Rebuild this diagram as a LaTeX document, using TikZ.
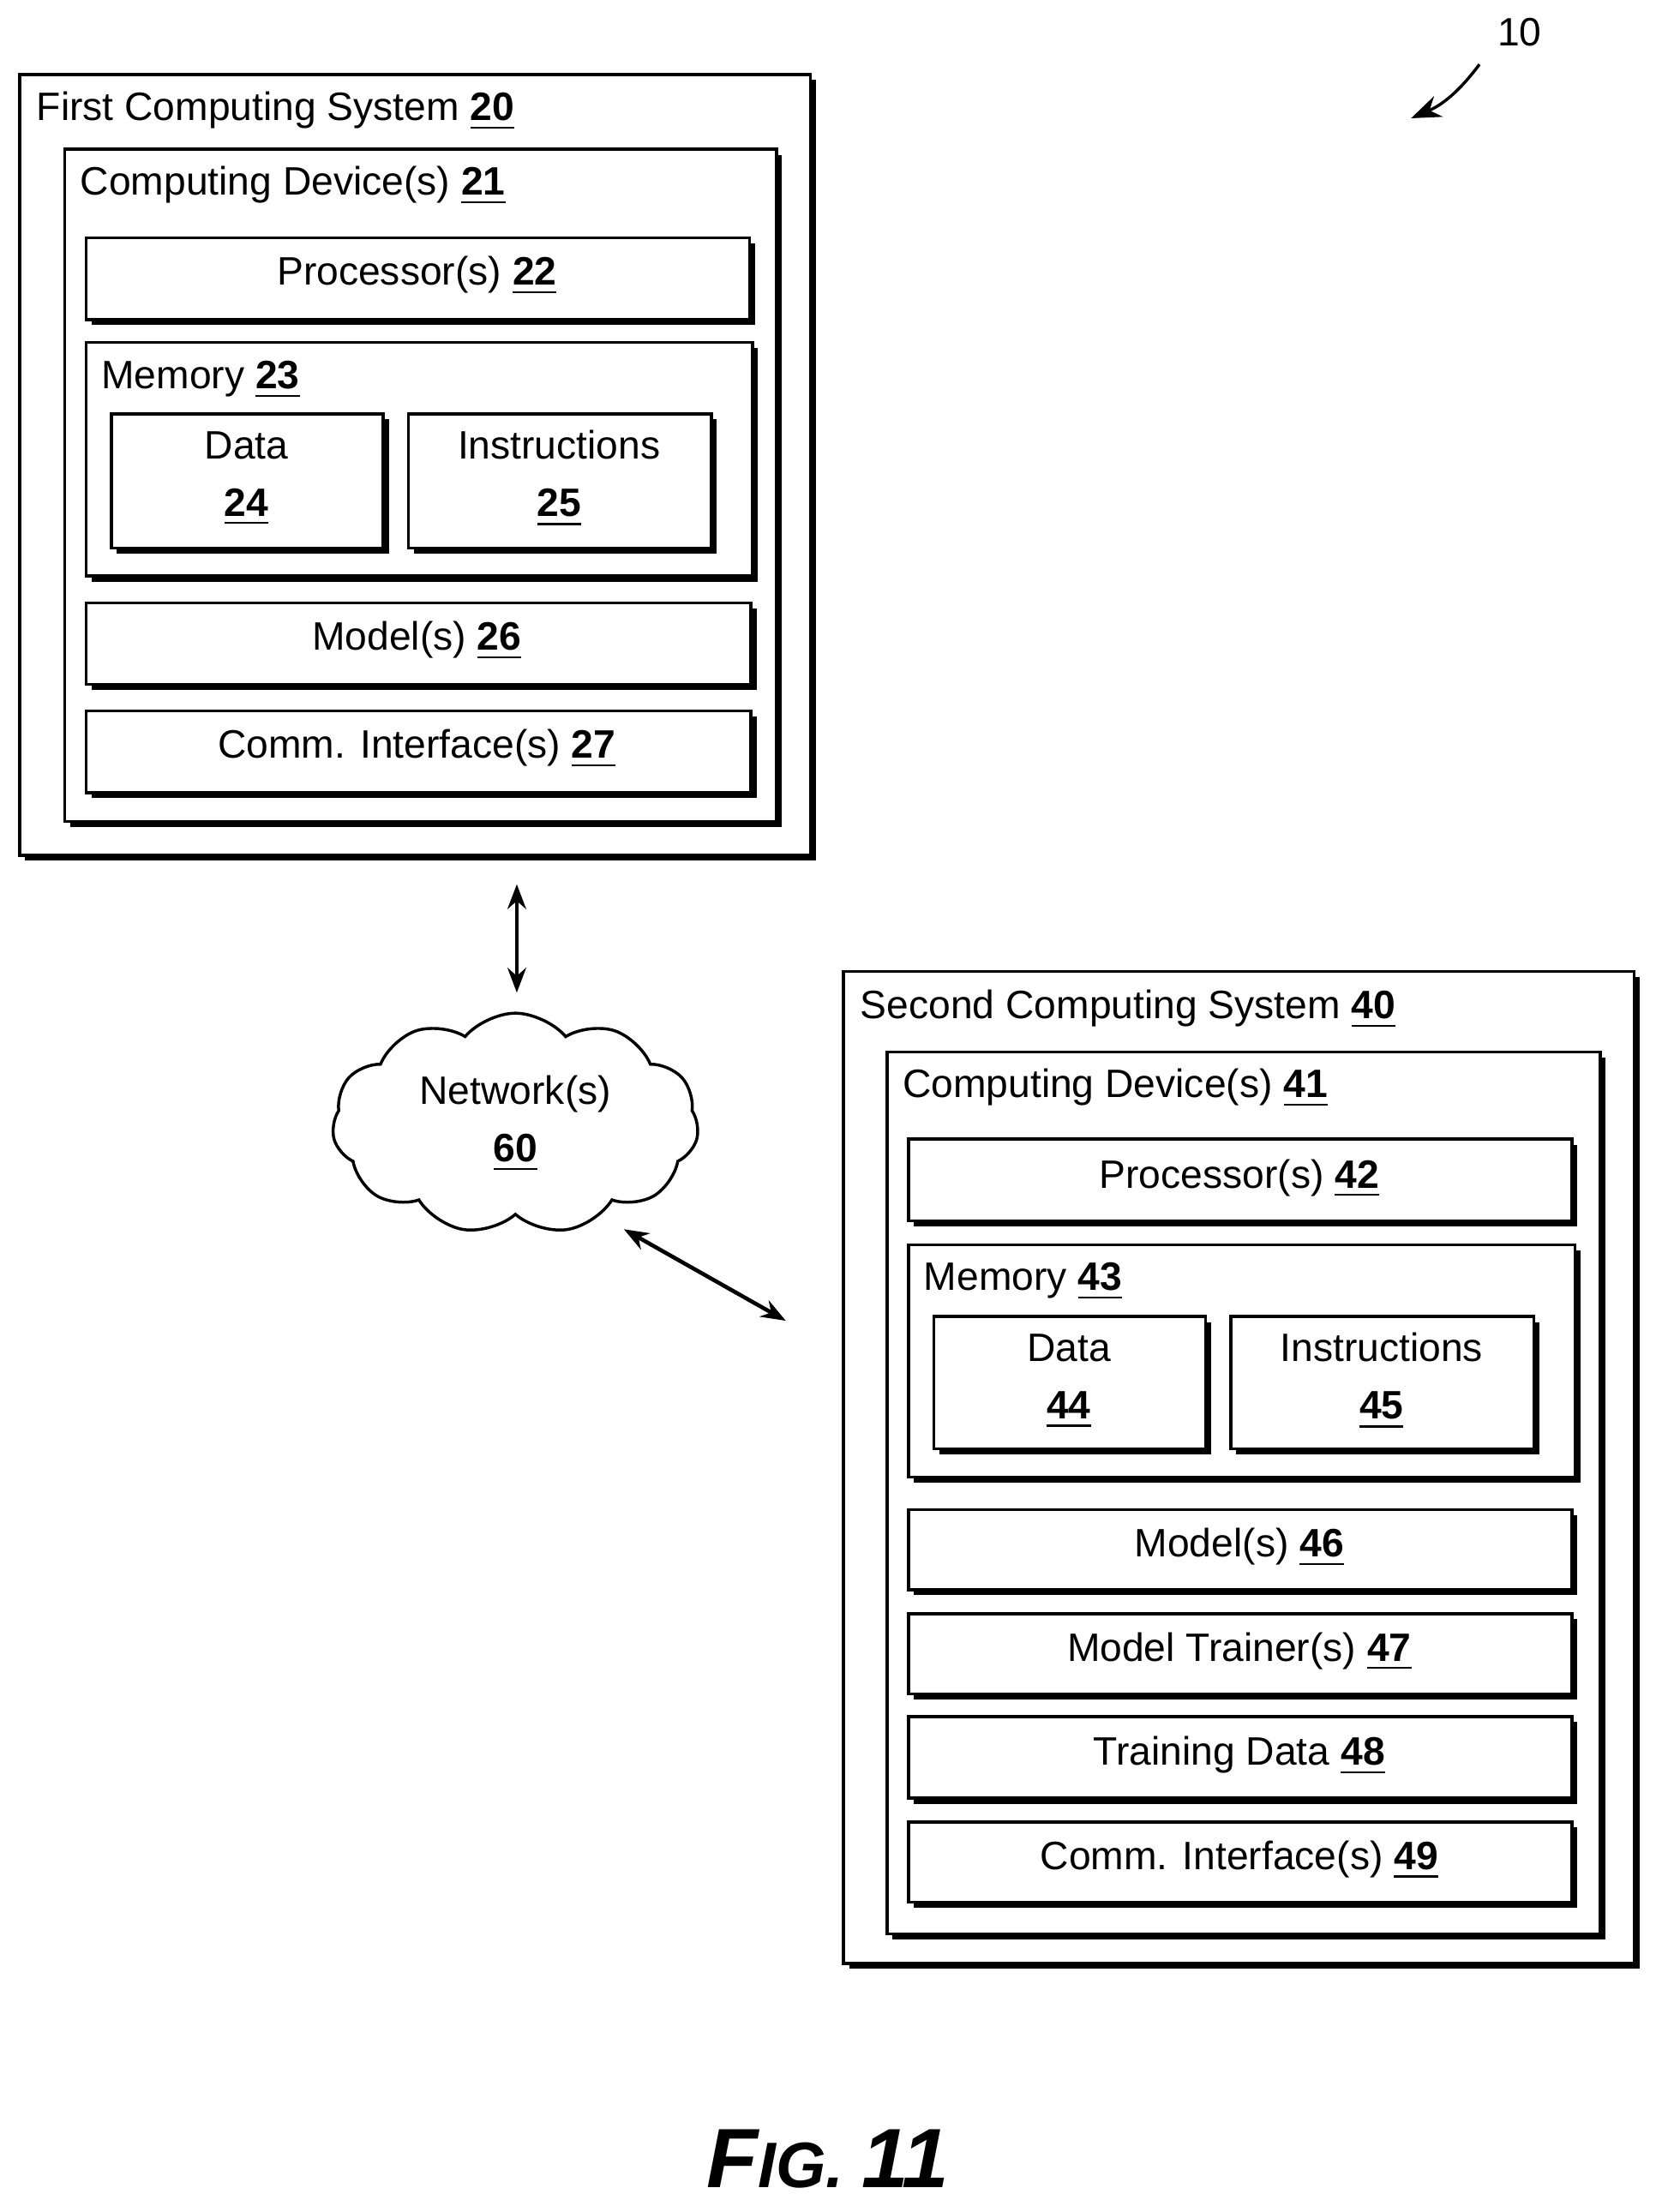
\documentclass[tikz,border=0pt]{standalone}
\usepackage{fontspec}
\setmainfont{Liberation Sans}
\usetikzlibrary{shadows,shapes.symbols,arrows.meta}
\newcommand{\num}[1]{\underline{\textbf{#1}}}
\begin{document}
\begin{tikzpicture}[x=0.01cm, y=-0.01cm, semithick, font=\fontsize{8}{9.6}\selectfont,
   box/.style={draw, fill=white, rectangle, anchor=north west, inner sep=0pt,
     drop shadow={shadow xshift=1.1pt, shadow yshift=-1.1pt, fill=black, opacity=1}},
   lbl/.style={anchor=west, inner sep=0pt},
   link/.style={{Stealth[length=5pt]}-{Stealth[length=5pt]}, thick}]
   \useasboundingbox (0,0) rectangle (1180,1571);

   % first computing system
   \node[box, minimum width=5.61cm, minimum height=5.54cm] (sys_a) at (13,52) {};
   \node[lbl] at (25,79) {First Computing System \num{20}};
   \node[box, minimum width=5.05cm, minimum height=4.77cm] (dev_a) at (45,105) {};
   \node[lbl] at (56,132) {Computing Device(s) \num{21}};
   \node[box, minimum width=4.71cm, minimum height=0.58cm] (proc_a) at (60,168) {};
   \node at (296,196) {Processor(s) \num{22}};
   \node[box, minimum width=4.73cm, minimum height=1.66cm] (mem_a) at (60,242) {};
   \node[lbl] at (71,270) {Memory \num{23}};
   \node[box, minimum width=1.93cm, minimum height=0.95cm, align=center, anchor=north west] (data_a) at (78,293) {};
   \node[align=center] at (175,340) {Data\\[2pt]\num{24}};
   \node[box, minimum width=2.15cm, minimum height=0.95cm] (inst_a) at (289,293) {};
   \node[align=center] at (397,340) {Instructions\\[2pt]\num{25}};
   \node[box, minimum width=4.72cm, minimum height=0.58cm] (model_a) at (60,427) {};
   \node at (296,455) {Model(s) \num{26}};
   \node[box, minimum width=4.72cm, minimum height=0.58cm] (comm_a) at (60,504) {};
   \node at (296,532) {Comm. Interface(s) \num{27}};

   % network
   \node[cloud, draw, cloud puffs=11, cloud puff arc=100, aspect=1.7, minimum width=2.6cm, minimum height=1.55cm, align=center] (net) at (366,798) {Network(s)\\[2pt]\num{60}};
   \coordinate (net_top) at (367,628);
   \coordinate (net_in) at (367,705);
   \coordinate (net_out) at (443,873);
   \coordinate (sys_b_in) at (558,938);
   \draw[link] (net_top) -- (net_in);
   \draw[link] (net_out) -- (sys_b_in);

   % second computing system
   \node[box, minimum width=5.61cm, minimum height=7.04cm] (sys_b) at (598,689) {};
   \node[lbl] at (610,717) {Second Computing System \num{40}};
   \node[box, minimum width=5.06cm, minimum height=6.26cm] (dev_b) at (629,746) {};
   \node[lbl] at (640,773) {Computing Device(s) \num{41}};
   \node[box, minimum width=4.71cm, minimum height=0.58cm] (proc_b) at (644,808) {};
   \node at (880,837) {Processor(s) \num{42}};
   \node[box, minimum width=4.73cm, minimum height=1.65cm] (mem_b) at (644,883) {};
   \node[lbl] at (655,910) {Memory \num{43}};
   \node[box, minimum width=1.93cm, minimum height=0.94cm] (data_b) at (662,934) {};
   \node[align=center] at (759,981) {Data\\[2pt]\num{44}};
   \node[box, minimum width=2.15cm, minimum height=0.94cm] (inst_b) at (873,934) {};
   \node[align=center] at (981,981) {Instructions\\[2pt]\num{45}};
   \node[box, minimum width=4.71cm, minimum height=0.57cm] (model_b) at (644,1071) {};
   \node at (880,1099) {Model(s) \num{46}};
   \node[box, minimum width=4.71cm, minimum height=0.57cm] (trainer_b) at (644,1145) {};
   \node at (880,1173) {Model Trainer(s) \num{47}};
   \node[box, minimum width=4.71cm, minimum height=0.58cm] (train_b) at (644,1218) {};
   \node at (880,1247) {Training Data \num{48}};
   \node[box, minimum width=4.71cm, minimum height=0.57cm] (comm_b) at (644,1293) {};
   \node at (880,1321) {Comm. Interface(s) \num{49}};

   % reference numeral and caption
   \node (ref) at (1079,23) {10};
   \coordinate (ref_tip) at (1002,84);
   \draw[-{Stealth[length=6pt]}] (ref.south west) to[bend left=15] (ref_tip);
   \node (fig) at (588,1533) {\fontsize{17}{20}\selectfont\bfseries\itshape F\fontsize{13}{20}\selectfont IG. \fontsize{17}{20}\selectfont 11};
\end{tikzpicture}
\end{document}
